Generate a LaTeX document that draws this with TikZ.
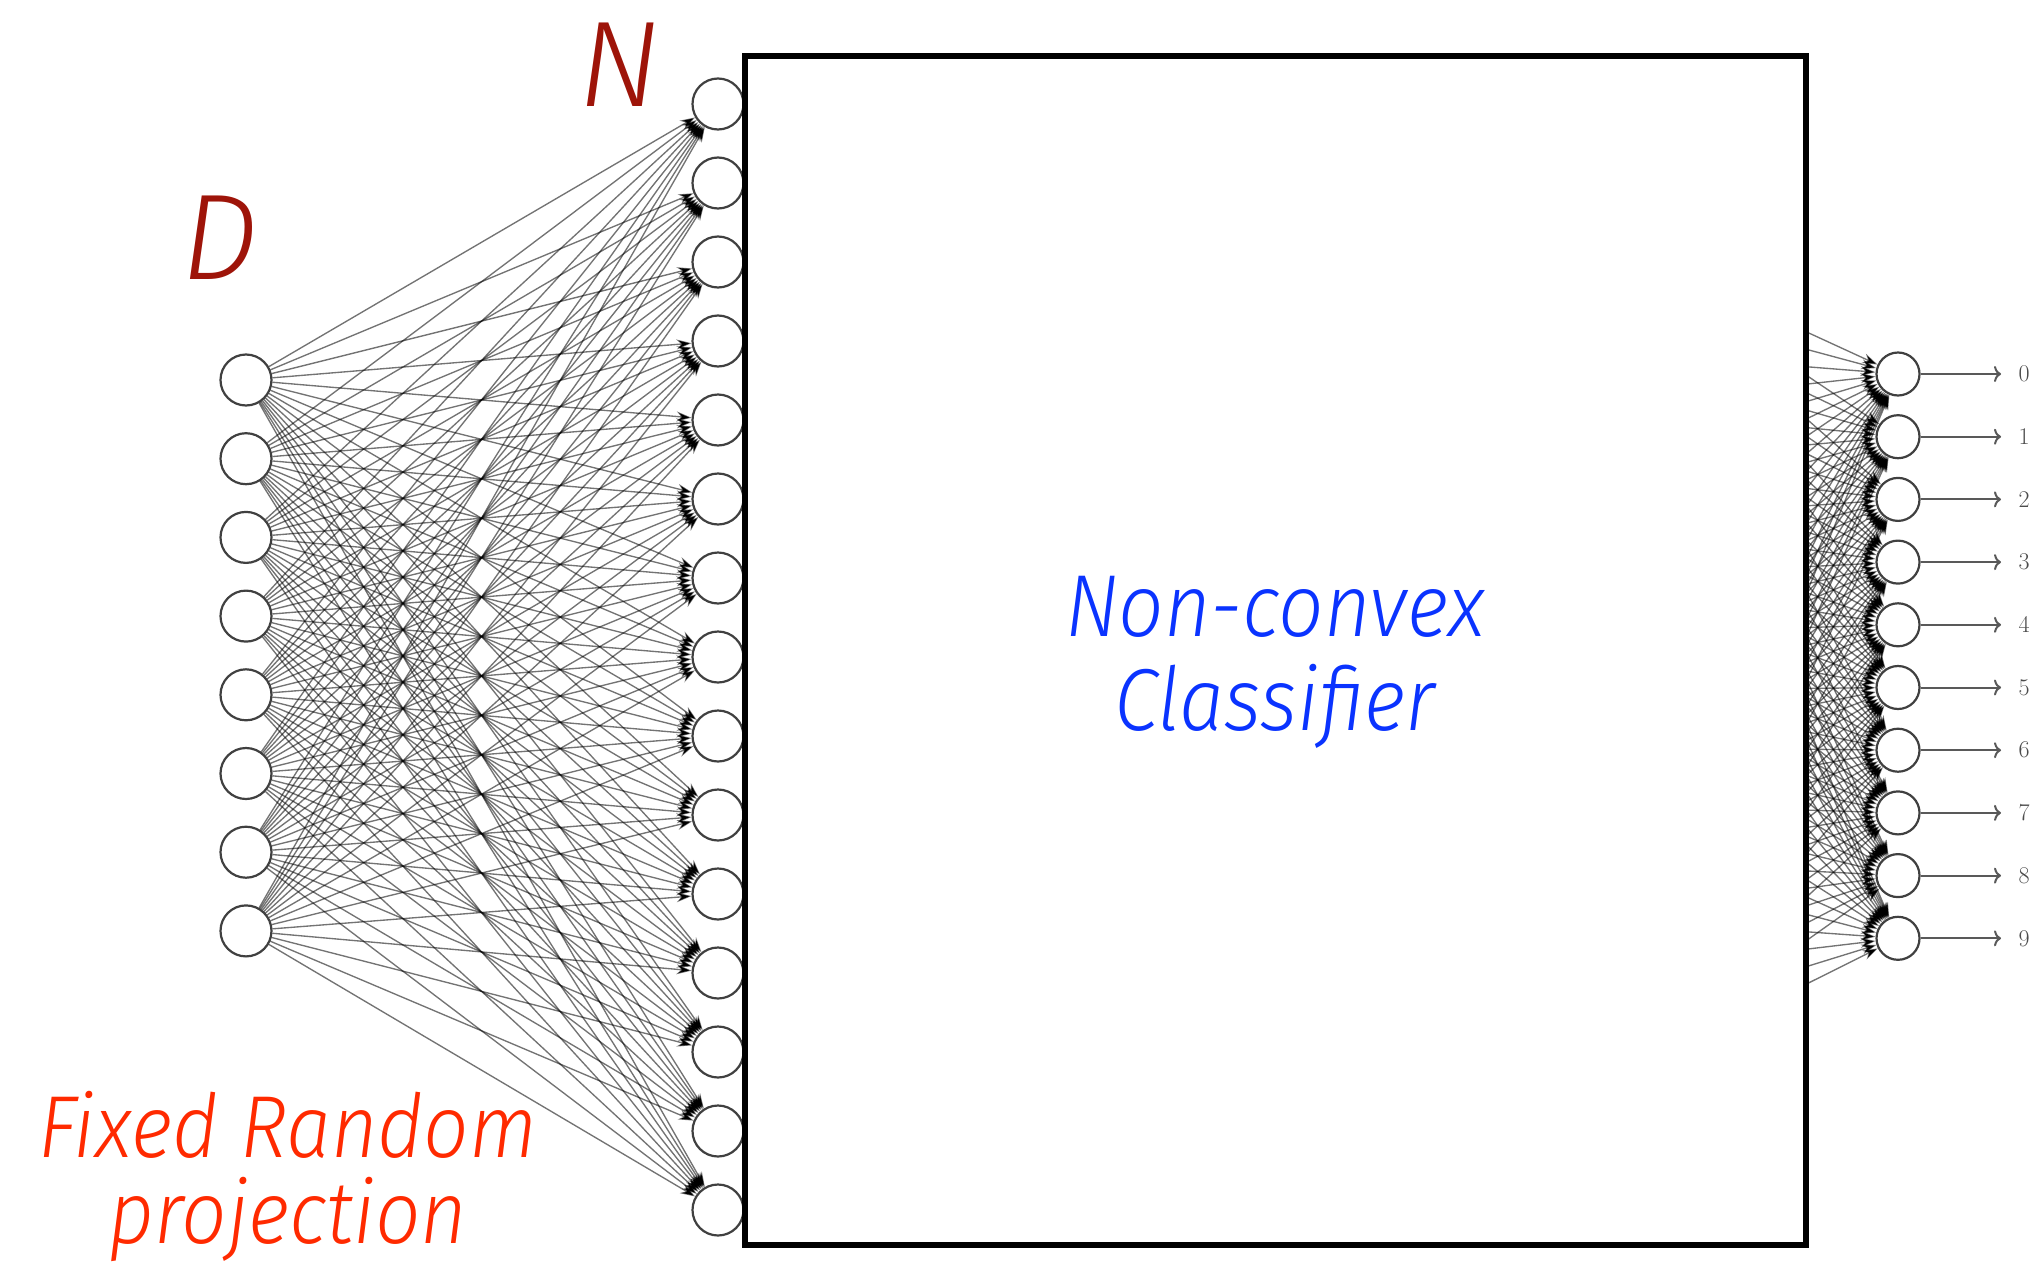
\documentclass[tikz,border=0pt]{standalone}
\usepackage{fontspec}
\newfontfamily\labfont{Fira Sans Light}[ItalicFont={Fira Sans Light Italic}]
\newfontfamily\midfont{Fira Sans Light}[ItalicFont={Fira Sans Light Italic},FakeStretch=0.91]
\usetikzlibrary{arrows.meta}
\definecolor{darkred}{HTML}{9E1409}
\definecolor{fixedred}{HTML}{FF2A00}
\definecolor{classblue}{HTML}{0A33FF}
\begin{document}
\begin{tikzpicture}[x=1pt,y=-1pt,
  neuron/.style={circle,draw=black!75,line width=2.2pt,fill=white,minimum size=51pt,inner sep=0pt},
  outneuron/.style={neuron,minimum size=43pt},
  conn/.style={draw=black,draw opacity=0.55,line width=1.35pt,-{Stealth[length=15pt,width=10pt]}},
  outarrow/.style={draw=black!65,line width=2pt,-{To[length=7pt,width=16pt]}},
  biglab/.style={font=\labfont\itshape\fontsize{122}{122}\selectfont,text=darkred,anchor=base,inner sep=0pt},
  midlab/.style={font=\midfont\itshape\fontsize{88}{88}\selectfont,anchor=base,inner sep=0pt},
  digit/.style={font=\fontsize{24}{24}\selectfont,text=black!70,inner sep=0pt}]
\useasboundingbox (0,0) rectangle (2034,1263);
% input layer
\foreach \k in {1,...,8}
  \node[neuron] (i\k) at (246,{380+78.7*(\k-1)}) {};
% hidden layer
\foreach \k in {1,...,15}
  \node[neuron] (h\k) at (718,{104+79*(\k-1)}) {};
% output layer
\foreach \k in {0,...,9}
  \node[outneuron] (o\k) at (1898,{374+62.7*\k}) {};
% hidden sources behind the box
\foreach \k in {1,...,16}
  \coordinate (s\k) at (1600,{237+56.67*(\k-1)});
% connections
\foreach \a in {1,...,8}
  \foreach \b in {1,...,15}
    \draw[conn] (i\a) -- (h\b);
\foreach \a in {1,...,16}
  \foreach \b in {0,...,9}
    \draw[conn] (s\a) -- (o\b);
% classifier box
\node[draw=black,line width=6pt,fill=white,minimum width=1061pt,minimum height=1189pt,inner sep=0pt] (box) at (1275.5,650.5) {};
\node[midlab,text=classblue] (t1) at (1275,636) {Non-convex};
\node[midlab,text=classblue] (t2) at (1275,730) {Classifier};
% outputs
\foreach \k in {0,...,9}{
  \coordinate (e\k) at (2001,{374+62.7*\k});
  \draw[outarrow] (o\k.east) -- (e\k);
  \node[digit] (l\k) at (2024,{374+62.7*\k}) {\k};
}
% labels
\node[biglab] (N) at (619,106) {N};
\node[biglab] (D) at (220,279) {D};
\node[midlab,text=fixedred] (f1) at (288,1157) {Fixed Random};
\node[midlab,text=fixedred] (f2) at (288,1243) {projection};
\end{tikzpicture}
\end{document}
